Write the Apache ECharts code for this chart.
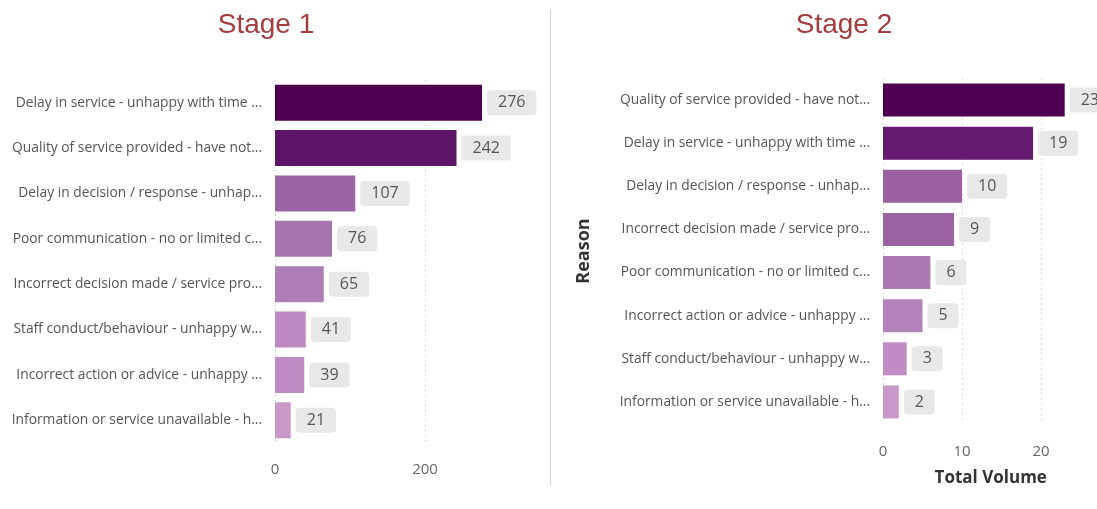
<!DOCTYPE html>
<html>
<head>
<meta charset="utf-8">
<script src="https://cdn.jsdelivr.net/npm/echarts@6/dist/echarts.min.js"></script>
<style>
    html, body { margin: 0; padding: 0; background: #fff; }
    #main { width: 1097px; height: 509px; }
</style>
</head>
<body>
<div id="main"></div>
<script>
// Stage 1 data
const stage1Reasons = [
    'Delay in service - unhappy with time ...',
    'Quality of service provided - have not...',
    'Delay in decision / response - unhap...',
    'Poor communication - no or limited c...',
    'Incorrect decision made / service pro...',
    'Staff conduct/behaviour - unhappy w...',
    'Incorrect action or advice - unhappy ...',
    'Information or service unavailable - h...'
]
const stage1Values = [276, 242, 107, 76, 65, 41, 39, 21]

// Stage 2 data
const stage2Reasons = [
    'Quality of service provided - have not...',
    'Delay in service - unhappy with time ...',
    'Delay in decision / response - unhap...',
    'Incorrect decision made / service pro...',
    'Poor communication - no or limited c...',
    'Incorrect action or advice - unhappy ...',
    'Staff conduct/behaviour - unhappy w...',
    'Information or service unavailable - h...'
]
const stage2Values = [23, 19, 10, 9, 6, 5, 3, 2]

// bar colours (gradient by value, as in the report)
const stage1Colors = ['#4f0050', '#5c1466', '#9b64a4', '#a775ae', '#ad7db5', '#bc8ac0', '#bd8bc1', '#c898c9']
const stage2Colors = ['#4f0050', '#651b6f', '#9a60a0', '#9b63a2', '#ac78b1', '#b482ba', '#bf8dc3', '#c898ca']

const font = '"Segoe UI", "Open Sans", "Noto Sans", sans-serif'

const valueLabel = {
    show: true,
    position: 'right',
    distance: 5,
    color: '#555',
    fontSize: 16,
    fontFamily: font,
    backgroundColor: '#e8e8e8',
    borderRadius: 4,
    padding: [5, 11, 4, 11]
}

const catAxis = (idx, data, extra) => Object.assign({
    type: 'category',
    gridIndex: idx,
    inverse: true,
    data: data,
    axisLine: { show: false },
    axisTick: { show: false },
    axisLabel: { color: '#555', fontSize: 13.8, fontFamily: font, margin: 13 }
}, extra || {})

const valAxis = (idx, max, interval, margin, extra) => Object.assign({
    type: 'value',
    gridIndex: idx,
    min: 0,
    max: max,
    interval: interval,
    axisLine: { show: false },
    axisTick: { show: false },
    axisLabel: { color: '#666', fontSize: 15, fontFamily: font, margin: margin, showMaxLabel: false },
    splitLine: { show: true, showMaxLine: false, lineStyle: { color: '#bbb', type: [1, 4], width: 1 } }
}, extra || {})

const chart = echarts.init(document.getElementById('main'), null, { renderer: 'canvas' })

const option = {
    animation: false,
    backgroundColor: '#fff',
    title: [
        { text: 'Stage 1', left: 261, top: 6, textAlign: 'center',
          textStyle: { color: '#a33c3c', fontSize: 28, fontWeight: 'normal', fontFamily: 'Liberation Sans, Arial' } },
        { text: 'Stage 2', left: 839, top: 6, textAlign: 'center',
          textStyle: { color: '#a33c3c', fontSize: 28, fontWeight: 'normal', fontFamily: 'Liberation Sans, Arial' } }
    ],
    graphic: [
        { type: 'line', shape: { x1: 550.5, y1: 10, x2: 550.5, y2: 485 }, style: { stroke: '#d0d0d0', lineWidth: 1 } }
    ],
    grid: [
        { left: 275, top: 80, height: 363, width: 240 },
        { left: 883, top: 78.5, height: 345, width: 197.5 }
    ],
    xAxis: [
        valAxis(0, 320, 200, 19),
        valAxis(1, 25, 10, 21, {
            name: 'Total Volume',
            nameLocation: 'middle',
            nameGap: 46,
            nameTextStyle: { color: '#333', fontSize: 17, fontWeight: 'bold', fontFamily: font, padding: [0, 0, 0, 18] }
        })
    ],
    yAxis: [
        catAxis(0, stage1Reasons),
        catAxis(1, stage2Reasons, {
            name: 'Reason',
            nameLocation: 'middle',
            nameGap: 290,
            nameRotate: 90,
            nameTextStyle: { color: '#333', fontSize: 18, fontWeight: 'bold', fontFamily: font }
        })
    ],
    series: [
        {
            type: 'bar',
            xAxisIndex: 0,
            yAxisIndex: 0,
            barWidth: 36,
            data: stage1Values.map((v, i) => ({ value: v, itemStyle: { color: stage1Colors[i] } })),
            label: valueLabel
        },
        {
            type: 'bar',
            xAxisIndex: 1,
            yAxisIndex: 1,
            barWidth: 33,
            data: stage2Values.map((v, i) => ({ value: v, itemStyle: { color: stage2Colors[i] } })),
            label: valueLabel
        }
    ]
}

chart.setOption(option)
</script>
</body>
</html>
